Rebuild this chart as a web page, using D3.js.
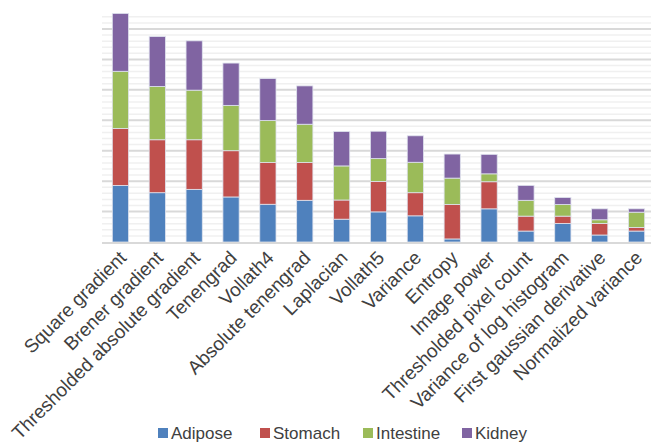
<!DOCTYPE html>
<html><head><meta charset="utf-8">
<script src="https://cdn.jsdelivr.net/npm/d3@7"></script>
<style>body{margin:0;background:#fff;} svg{display:block;font-family:"Liberation Sans",Arial,sans-serif;}</style>
</head><body>
<svg id="c" width="651" height="445"></svg>
<script>
const categories = ["Square gradient","Brener gradient","Thresholded absolute gradient","Tenengrad","Vollath4","Absolute tenengrad","Laplacian","Vollath5","Variance","Entropy","Image power","Thresholded pixel count","Variance of log histogram","First gaussian derivative","Normalized variance"];
const seriesNames = ["Adipose","Stomach","Intestine","Kidney"];
const adipose   = [18.6,16.2,17.3,14.8,12.4,13.7,7.5,9.9,8.6,1.0,10.9,3.6,6.1,2.3,3.6];
const stomach   = [18.7,17.4,16.3,15.2,13.7,12.4,6.3,10.0,7.6,11.3,8.9,4.9,2.4,3.8,1.2];
const intestine = [18.8,17.5,16.3,14.9,13.8,12.6,11.2,7.5,10.0,8.7,2.6,5.2,3.8,1.2,5.0];
const kidney    = [19.0,16.4,16.2,13.9,13.8,12.6,11.3,9.0,8.7,7.9,6.4,4.9,2.3,3.6,1.1];
const colors = ["#4F81BD","#C0504D","#9BBB59","#8064A2"];
const majorTicks = [0,10,20,30,40,50,60,70];

const svg = d3.select("#c");
const x = d3.scaleBand().domain(categories).range([102,655]).paddingInner(0.56).paddingOuter(0.28);
const y = d3.scaleLinear().domain([0,74]).range([242,242-74*3.043]);

const rows = categories.map((c,i)=>({cat:c, Adipose:adipose[i], Stomach:stomach[i], Intestine:intestine[i], Kidney:kidney[i]}));
const stack = d3.stack().keys(seriesNames)(rows);

const minor = d3.range(0,75,2).filter(v=>v%10!==0);
svg.append("g").selectAll("line").data(minor).join("line")
  .attr("x1",102).attr("x2",651).attr("y1",d=>y(d)).attr("y2",d=>y(d))
  .attr("stroke","#f0f0f0").attr("stroke-width",1.5);
svg.append("g").selectAll("line").data(majorTicks.filter(v=>v>0)).join("line")
  .attr("x1",102).attr("x2",651).attr("y1",d=>y(d)).attr("y2",d=>y(d))
  .attr("stroke","#d9d9d9").attr("stroke-width",2);

svg.append("g").selectAll("g").data(stack).join("g")
  .attr("fill",(d,i)=>colors[i])
  .selectAll("rect").data(d=>d).join("rect")
  .attr("x",d=>x(d.data.cat)).attr("width",x.bandwidth())
  .attr("y",d=>y(d[1])).attr("height",d=>y(d[0])-y(d[1]))
  .attr("stroke","#dfe3ee").attr("stroke-width",0.8);

svg.append("line").attr("x1",102).attr("x2",651).attr("y1",y(0)+1).attr("y2",y(0)+1)
  .attr("stroke","#d9d9d9").attr("stroke-width",2);

svg.append("g").selectAll("text").data(categories).join("text")
  .attr("transform",d=>`translate(${x(d)+x.bandwidth()/2+7},${y(0)+17}) rotate(-45)`)
  .attr("text-anchor","end").attr("font-size",19).attr("fill","#404040").text(d=>d);

const lx = [158,260,363,462];
const lg = svg.append("g").selectAll("g").data(seriesNames).join("g")
  .attr("transform",(d,i)=>`translate(${lx[i]},428)`);
lg.append("rect").attr("width",10).attr("height",10).attr("fill",(d,i)=>colors[i]);
lg.append("text").attr("x",13).attr("y",11).attr("font-size",17).attr("fill","#404040").text(d=>d);
</script>
</body></html>
